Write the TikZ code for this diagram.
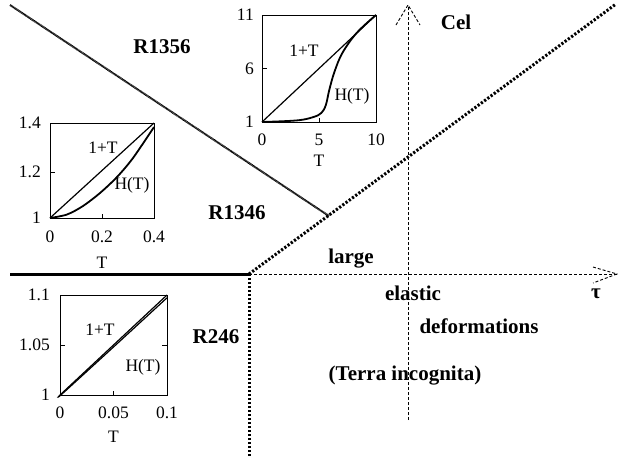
\documentclass[tikz,border=0pt]{standalone}
\usepackage{fontspec}
\setmainfont{Liberation Serif}
\begin{document}
\begin{tikzpicture}[x=1pt,y=-1pt,
  region/.style={font=\fontsize{21}{23}\selectfont\bfseries, inner sep=0pt},
  ticklbl/.style={font=\fontsize{17.5}{19}\selectfont, inner sep=0pt},
  frame/.style={line width=0.9pt},
  linecurve/.style={line width=1.2pt},
  hcurve/.style={line width=1.8pt},
  hatchline/.style={line width=2pt, dash pattern=on 0.8pt off 0.5pt},
  dotline/.style={line width=3pt, dash pattern=on 2.2pt off 1.8pt},
  axisline/.style={line width=0.9pt, dash pattern=on 3pt off 2pt},
  boldline/.style={line width=3pt}]
\useasboundingbox (0,0) rectangle (618,456);
% main lines
\coordinate (O) at (249,274);
\coordinate (Lft) at (10,274);
\coordinate (Bot) at (249,456);
\coordinate (DTop) at (616,4);
\coordinate (X) at (329,216);
\coordinate (S) at (10,5);
\coordinate (TauTip) at (617,274);
\coordinate (TauW1) at (593,267);
\coordinate (TauW2) at (593,283);
\coordinate (CelBot) at (408,420);
\coordinate (CelTip) at (408,5);
\coordinate (CelW1) at (396,25);
\coordinate (CelW2) at (420,25);
\draw[hatchline] (S) -- (X);
\draw[dotline] (O) -- (DTop);
\draw[boldline] (Lft) -- (O);
\draw[dotline] (O) -- (Bot);
\draw[axisline] (O) -- (TauTip);
\draw[axisline] (TauW1) -- (TauTip) -- (TauW2);
\draw[axisline] (CelBot) -- (CelTip);
\draw[axisline] (CelW1) -- (CelTip) -- (CelW2);
% region labels
\node[region] (r1356) at (162,47) {R1356};
\node[region] (r1346) at (237,213) {R1346};
\node[region] (r246) at (216,337) {R246};
\node[region] (large) at (351,259) {large};
\node[region] (elastic) at (413,293) {elastic};
\node[region] (deform) at (479,326) {deformations};
\node[region] (terra) at (405,376) {(Terra incognita)};
\node[region] (cel) at (456,22) {Cel};
\node[region] (tau) at (596,294) {τ};
% ---------- top inset ----------
\draw[frame] (262,15) rectangle (376,122);
\begin{scope}[shift={(262,122)}, x=11.4pt, y=10.7pt]
  \draw[frame] (5,0) -- (5,0.4);
  \draw[frame] (0,5) -- (0.45,5);
  \draw[linecurve] (0,0) -- (10,10);
  \draw[hcurve] plot[smooth, tension=0.6] coordinates {(0,0) (3.07,0.15) (4.47,0.45) (5.2,0.84) (5.6,1.59) (5.9,2.99) (6.35,4.67) (7.05,6.45) (8.3,8.32) (10,10)};
\end{scope}
\node[ticklbl, anchor=east] (t11) at (254,15) {11};
\node[ticklbl, anchor=east] (t6) at (254,69) {6};
\node[ticklbl, anchor=east] (t1a) at (254,122) {1};
\node[ticklbl] (x0a) at (262,140) {0};
\node[ticklbl] (x5a) at (319,140) {5};
\node[ticklbl] (x10a) at (376,140) {10};
\node[ticklbl] (Ta) at (319,161) {T};
\node[ticklbl] (la) at (304,51) {1+T};
\node[ticklbl] (ha) at (352,96) {H(T)};
% ---------- middle inset ----------
\draw[frame] (50,123) rectangle (154,218);
\draw[frame] (102,218) -- (102,214);
\draw[frame] (50,172) -- (55,172);
\draw[linecurve] (50,218) -- (154,123);
\draw[hcurve] plot[smooth] coordinates {(50,218) (67,214.5) (83,206) (100,193) (117,177) (133,158) (154,127)};
\node[ticklbl, anchor=east] (m14) at (41,123) {1.4};
\node[ticklbl, anchor=east] (m12) at (41,172) {1.2};
\node[ticklbl, anchor=east] (m1) at (41,218) {1};
\node[ticklbl] (mx0) at (50,237) {0};
\node[ticklbl] (mx2) at (102,237) {0.2};
\node[ticklbl] (mx4) at (154,237) {0.4};
\node[ticklbl] (Tm) at (102,263) {T};
\node[ticklbl] (lm) at (103,148) {1+T};
\node[ticklbl] (hm) at (132,185) {H(T)};
% ---------- bottom inset ----------
\draw[frame] (60,295) rectangle (167,395);
\draw[frame] (113.5,395) -- (113.5,391);
\draw[frame] (60,345) -- (65,345);
\draw[frame] (167,345) -- (162,345);
\draw[linecurve] (60,395) -- (167,295);
\draw[linecurve] plot[smooth] coordinates {(60,395) (62,394) (113.5,347) (167,297.8)};
\node[ticklbl, anchor=east] (b11) at (50,295) {1.1};
\node[ticklbl, anchor=east] (b105) at (50,345) {1.05};
\node[ticklbl, anchor=east] (b1) at (50,395) {1};
\node[ticklbl] (bx0) at (60,413) {0};
\node[ticklbl] (bx5) at (113.5,413) {0.05};
\node[ticklbl] (bx1) at (167,413) {0.1};
\node[ticklbl] (Tb) at (113.5,437) {T};
\node[ticklbl] (lb) at (100,330) {1+T};
\node[ticklbl] (hb) at (143,367) {H(T)};
\end{tikzpicture}
\end{document}
